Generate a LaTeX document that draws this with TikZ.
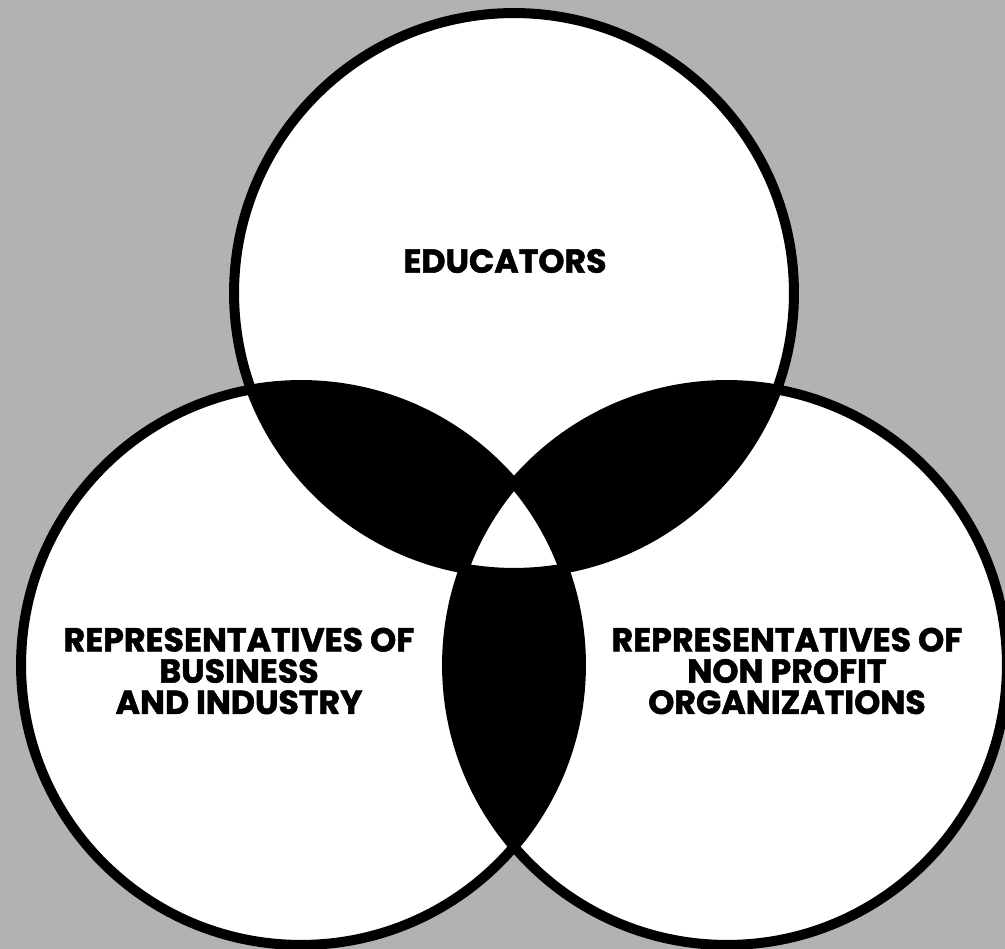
\documentclass[tikz,border=0pt]{standalone}
\usepackage{fontspec}
\setmainfont{Poppins}[BoldFeatures={FakeBold=1.6}]
\begin{document}
\begin{tikzpicture}[x=0.02cm,y=-0.02cm]
\tikzset{
  ring/.style={draw=black,line width=0.2cm},
  lab/.style={font=\fontsize{18.9}{17.8}\selectfont\bfseries, align=center, inner sep=0pt, text=black}
}
\useasboundingbox (0,0) rectangle (1005,949);
\clip (0,0) rectangle (1005,949);
\fill[black!30] (0,0) rectangle (1005,949);
\coordinate (T) at (514,293);
\coordinate (L) at (301,665);
\coordinate (R) at (727,665);
% white discs
\fill[white] (T) circle[radius=5.6cm] (L) circle[radius=5.6cm] (R) circle[radius=5.6cm];
% pairwise overlaps in black
\begin{scope}
  \clip (T) circle[radius=5.6cm];
  \fill[black] (L) circle[radius=5.6cm];
  \fill[black] (R) circle[radius=5.6cm];
\end{scope}
\begin{scope}
  \clip (L) circle[radius=5.6cm];
  \fill[black] (R) circle[radius=5.6cm];
\end{scope}
% triple overlap in white
\begin{scope}
  \clip (T) circle[radius=5.6cm];
  \clip (L) circle[radius=5.6cm];
  \fill[white] (R) circle[radius=5.6cm];
\end{scope}
% outlines
\draw[ring] (T) circle[radius=5.6cm];
\draw[ring] (L) circle[radius=5.6cm];
\draw[ring] (R) circle[radius=5.6cm];
% labels
\node[lab] (edu) at (505,261) {EDUCATORS};
\node[lab] (bus) at (239,671) {REPRESENTATIVES OF\\BUSINESS\\AND INDUSTRY};
\node[lab] (npo) at (787,671) {REPRESENTATIVES OF\\NON PROFIT\\ORGANIZATIONS};
\end{tikzpicture}
\end{document}
